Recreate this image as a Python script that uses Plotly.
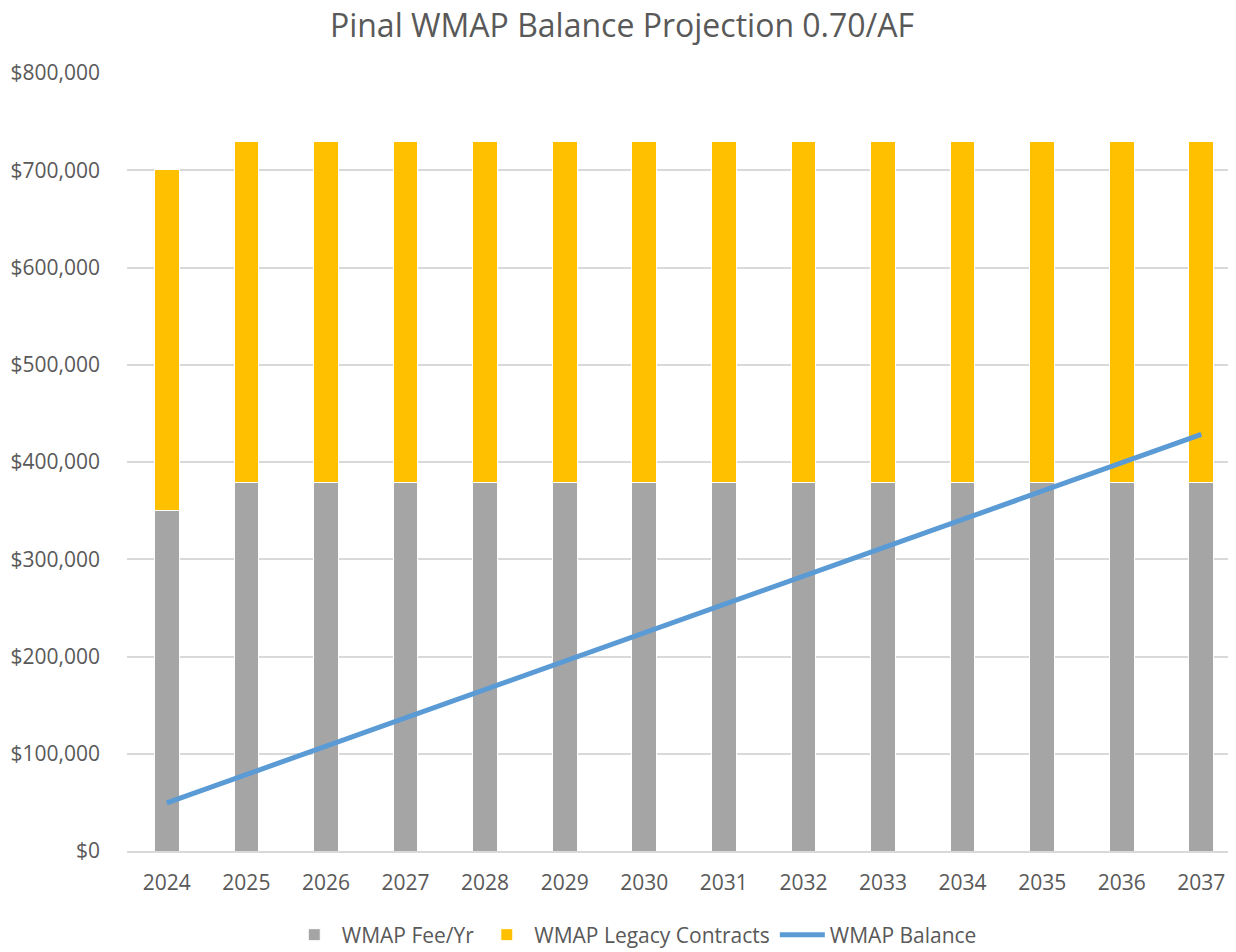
import plotly.graph_objects as go

years = ["2024", "2025", "2026", "2027", "2028", "2029", "2030",
         "2031", "2032", "2033", "2034", "2035", "2036", "2037"]
fee_per_year = [350000, 378600, 378600, 378600, 378600, 378600, 378600,
                378600, 378600, 378600, 378600, 378600, 378600, 378600]
legacy_contracts = [350700, 350700, 350700, 350700, 350700, 350700, 350700,
                    350700, 350700, 350700, 350700, 350700, 350700, 350700]
balance = [49500, 78600, 107700, 136900, 166000, 195100, 224300,
           253400, 282600, 311700, 340900, 370000, 399200, 428300]

FONT = "Open Sans"
TXT = "#595959"

W, H = 1228, 944

fig = go.Figure()
fig.add_trace(go.Bar(x=years, y=fee_per_year, name="WMAP Fee/Yr",
                     marker=dict(color="#a5a5a5", line=dict(color="white", width=1))))
fig.add_trace(go.Bar(x=years, y=legacy_contracts, name="WMAP Legacy Contracts",
                     marker=dict(color="#ffc000", line=dict(color="white", width=1))))
fig.add_trace(go.Scatter(x=years, y=balance, name="WMAP Balance", mode="lines",
                         line=dict(color="#5b9bd5", width=5)))

fig.update_layout(
    width=W, height=H,
    barmode="stack", bargap=0.69,
    paper_bgcolor="white", plot_bgcolor="white",
    margin=dict(l=119, r=0, t=65, b=101, autoexpand=False),
    font=dict(family=FONT, color=TXT, size=21),
    title=dict(text="Pinal WMAP Balance Projection 0.70/AF",
               font=dict(family=FONT, size=32, color=TXT),
               x=0.5, xanchor="center", xref="container",
               y=1 - 18 / H, yanchor="middle", yref="container"),
    legend=dict(orientation="h", xref="container", yref="paper",
                x=0.51, xanchor="center", y=-0.108, yanchor="middle",
                font=dict(family=FONT, size=21, color=TXT),
                itemwidth=45, traceorder="normal"),
    xaxis=dict(type="category", range=[-0.5, 13.436], showgrid=False,
               showline=True, linecolor="#d9d9d9", linewidth=2,
               ticks="", ticklabelstandoff=12, automargin=False,
               tickfont=dict(family=FONT, size=21, color=TXT)),
    yaxis=dict(range=[0, 800000], dtick=100000, tickformat="$,.0f",
               showgrid=True, gridcolor="#d9d9d9", gridwidth=2,
               zeroline=False, showline=False, ticks="", ticklabelstandoff=26,
               automargin=False,
               tickfont=dict(family=FONT, size=21, color=TXT)),
)

fig.write_html("out.html")
